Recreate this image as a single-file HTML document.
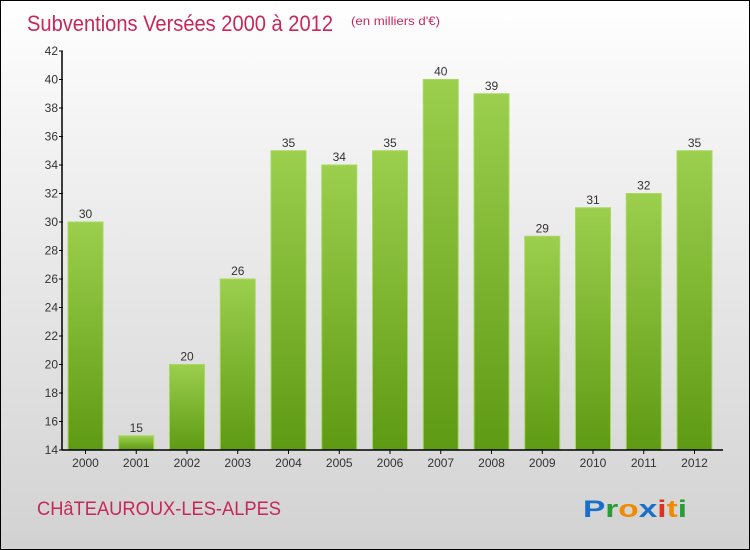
<!DOCTYPE html>
<html><head><meta charset="utf-8"><style>
body{margin:0;}
#c{position:relative;width:748px;height:548px;border:1px solid #000;background:linear-gradient(#fff 0%,#f0f0f0 30%,#d2d2d2 100%);font-family:"Liberation Sans",sans-serif;overflow:hidden}
</style></head><body>
<div id="c">
<svg width="748" height="548" style="position:absolute;left:0;top:0" id="svg">
<defs><linearGradient id="g" x1="0" y1="0" x2="0" y2="1"><stop offset="0" stop-color="#9bcf4d"/><stop offset="1" stop-color="#5f9a14"/></linearGradient></defs>
<text x="26" y="30" font-size="22" fill="#c8275a" textLength="306" lengthAdjust="spacingAndGlyphs">Subventions Versées 2000 à 2012</text>
<text x="350" y="24" font-size="12" fill="#c8275a" textLength="89" lengthAdjust="spacingAndGlyphs">(en milliers d'€)</text>
<text x="36" y="514" font-size="19" fill="#c8275a" textLength="244" lengthAdjust="spacingAndGlyphs">CHâTEAUROUX-LES-ALPES</text>
<text x="582" y="516" font-size="24" font-weight="bold" textLength="104" lengthAdjust="spacingAndGlyphs"><tspan fill="#1a6fc9">P</tspan><tspan fill="#2a9a3a">r</tspan><tspan fill="#f08a00">o</tspan><tspan fill="#1a6fc9">x</tspan><tspan fill="#e0301e">i</tspan><tspan fill="#f08a00">t</tspan><tspan fill="#2a9a3a">i</tspan></text>
<g id="plot"></g>
</svg>
</div>
<script>
const categories=["2000","2001","2002","2003","2004","2005","2006","2007","2008","2009","2010","2011","2012"];
const values=[30,15,20,26,35,34,35,40,39,29,31,32,35];
const yTicks=[14,16,18,20,22,24,26,28,30,32,34,36,38,40,42];
const NS="http://www.w3.org/2000/svg";
const g=document.getElementById('plot');
const y0=449,y1=50,vmin=14,vmax=42;
function y(v){return y0-(v-vmin)/(vmax-vmin)*(y0-y1);}
function x(i){return 84.5+i*50.75;}
function mk(t,a,txt){const e=document.createElementNS(NS,t);for(const k in a)e.setAttribute(k,a[k]);if(txt!==undefined)e.textContent=txt;g.appendChild(e);return e;}
categories.forEach((c,i)=>{
 const b=mk('rect',{x:x(i)-17.5,y:y(values[i]),width:35,height:y0-y(values[i]),fill:'url(#g)',stroke:'#a8d860','stroke-width':1});
 
 
 const l=mk('text',{x:x(i),y:y(values[i])-4,'font-size':12,fill:'#333','text-anchor':'middle'},values[i]);
 
 
 const t=mk('text',{x:x(i),y:466,'font-size':12,fill:'#333','text-anchor':'middle'},c);
 
 
 mk('line',{x1:x(i),x2:x(i),y1:y0,y2:y0+4,stroke:'#000'});
});
yTicks.forEach(v=>{
 mk('line',{x1:58,x2:62,y1:y(v),y2:y(v),stroke:'#000'});
 const t=mk('text',{x:57,y:y(v)+4,'font-size':12,fill:'#333','text-anchor':'end'},v);
 
 
});
const ya=mk('line',{x1:61,x2:61,y1:y1,y2:y0,stroke:'#000','stroke-width':1.5});


const xa=mk('line',{x1:61,x2:722,y1:y0,y2:y0,stroke:'#000','stroke-width':1.5});


</script>
</body></html>
